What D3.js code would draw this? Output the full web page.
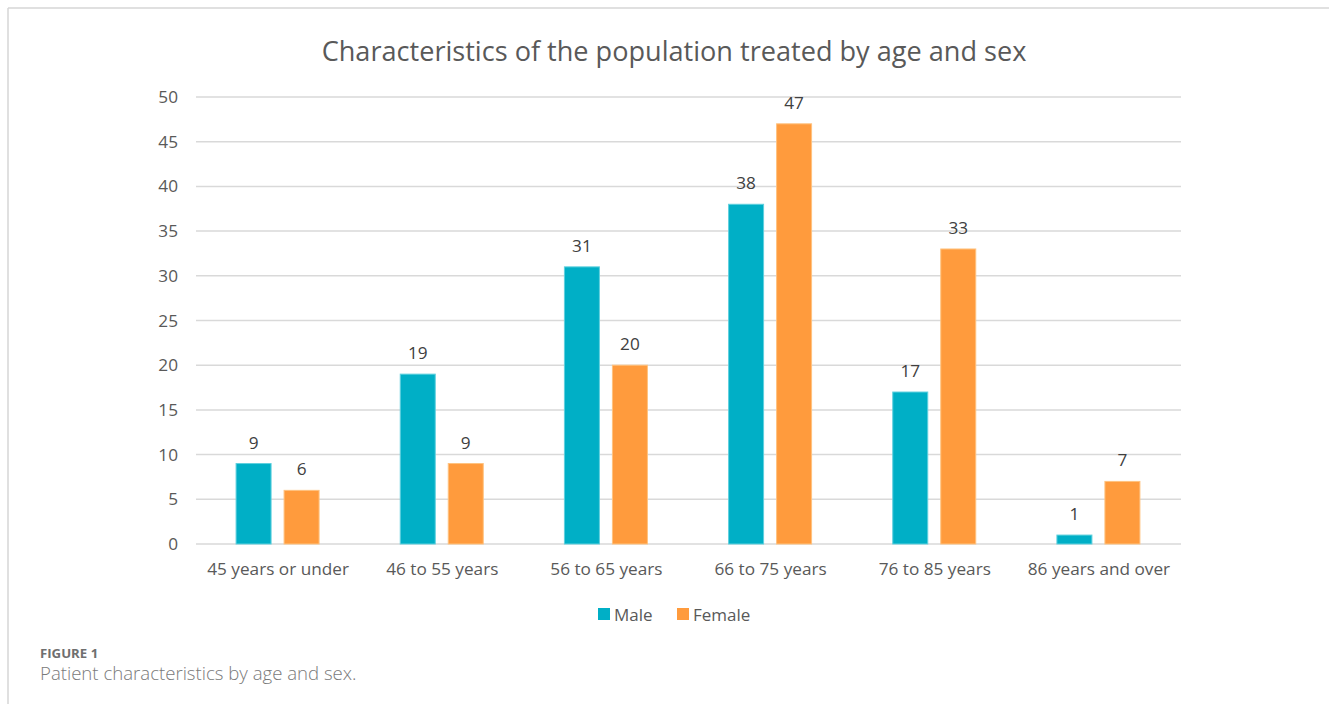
<!DOCTYPE html>
<html>
<head>
<meta charset="utf-8">
<script src="https://cdn.jsdelivr.net/npm/d3@7"></script>
<style>
  html, body { margin: 0; padding: 0; background: #fff; }
  svg { display: block; font-family: "Open Sans", "Noto Sans", sans-serif; }
</style>
</head>
<body>
<svg id="chart" width="1329" height="704"></svg>
<script>
// Age groups and patient counts by sex
const categories = ["45 years or under", "46 to 55 years", "56 to 65 years", "66 to 75 years", "76 to 85 years", "86 years and over"];
const seriesNames = ["Male", "Female"];
const maleValues = [9, 19, 31, 38, 17, 1];
const femaleValues = [6, 9, 20, 47, 33, 7];
const yTicks = [0, 5, 10, 15, 20, 25, 30, 35, 40, 45, 50];

const colors = { Male: "#00AFC6", Female: "#FF9B3D" };
const edgeColors = { Male: "#5fd0de", Female: "#ffc27f" };

const svg = d3.select("#chart");

// Outer frame (top and left rules)
svg.append("line").attr("x1", 8).attr("y1", 8).attr("x2", 1329).attr("y2", 8)
  .attr("stroke", "#d6d6d6").attr("stroke-width", 1.5);
svg.append("line").attr("x1", 8).attr("y1", 8).attr("x2", 8).attr("y2", 704)
  .attr("stroke", "#d6d6d6").attr("stroke-width", 1.5);

const plot = { left: 196, right: 1181, top: 97, bottom: 544 };

const x0 = d3.scaleBand().domain(categories).range([plot.left, plot.right]).paddingInner(0).paddingOuter(0);
const x1 = d3.scaleBand().domain(seriesNames).range([0, 84]).paddingInner(0.25);
const y = d3.scaleLinear().domain([0, 50]).range([plot.bottom, plot.top]);

// Title
svg.append("text").attr("x", 674).attr("y", 61).attr("text-anchor", "middle")
  .attr("font-size", 27.1).attr("fill", "#595959")
  .text("Characteristics of the population treated by age and sex");

// Gridlines
svg.append("g").selectAll("line").data(yTicks).join("line")
  .attr("x1", plot.left).attr("x2", plot.right)
  .attr("y1", d => y(d)).attr("y2", d => y(d))
  .attr("stroke", "#d9d9d9").attr("stroke-width", 1.5);

// Y axis labels
const yAxis = d3.axisLeft(y).tickValues(yTicks).tickSize(0).tickPadding(18);
const yg = svg.append("g").attr("transform", `translate(${plot.left},0)`).call(yAxis);
yg.select(".domain").remove();
yg.selectAll("text").attr("font-size", 17.2).attr("fill", "#595959")
  .attr("font-family", "'Open Sans', 'Noto Sans', sans-serif");

// X axis labels
const xAxis = d3.axisBottom(x0).tickSize(0).tickPadding(19);
const xg = svg.append("g").attr("transform", `translate(0,${plot.bottom})`).call(xAxis);
xg.select(".domain").remove();
xg.selectAll("text").attr("font-size", 17.2).attr("fill", "#595959")
  .attr("font-family", "'Open Sans', 'Noto Sans', sans-serif");

// Bars
const rows = categories.map((c, i) => ({ cat: c, vals: [
  { s: "Male", v: maleValues[i] },
  { s: "Female", v: femaleValues[i] }
]}));

const groups = svg.append("g").selectAll("g").data(rows).join("g")
  .attr("transform", d => `translate(${x0(d.cat) + x0.bandwidth() / 2 - 42.5},0)`);

groups.selectAll("rect").data(d => d.vals).join("rect")
  .attr("x", d => x1(d.s) + 0.5)
  .attr("y", d => y(d.v))
  .attr("width", x1.bandwidth() - 1)
  .attr("height", d => y(0) - y(d.v))
  .attr("fill", d => colors[d.s])
  .attr("stroke", d => edgeColors[d.s])
  .attr("stroke-width", 1);

// Value labels
groups.selectAll("text").data(d => d.vals).join("text")
  .attr("x", d => x1(d.s) + x1.bandwidth() / 2)
  .attr("y", d => y(d.v) - 15)
  .attr("text-anchor", "middle")
  .attr("font-size", 17.2).attr("fill", "#404040")
  .text(d => d.v);

// Legend
const legend = svg.append("g").attr("transform", "translate(598,608)");
const legendItems = [{ s: "Male", x: 0 }, { s: "Female", x: 79 }];
const li = legend.selectAll("g").data(legendItems).join("g")
  .attr("transform", d => `translate(${d.x},0)`);
li.append("rect").attr("width", 12).attr("height", 12).attr("fill", d => colors[d.s]);
li.append("text").attr("x", 16).attr("y", 12.5).attr("font-size", 17).attr("fill", "#595959")
  .text(d => d.s);

// Caption
svg.append("text").attr("x", 40).attr("y", 658).attr("font-size", 13.2)
  .attr("font-weight", 700).attr("fill", "#6f6f6f").text("FIGURE 1");
svg.append("text").attr("x", 40).attr("y", 680).attr("font-size", 18.6)
  .attr("fill", "#7a7a7a").attr("font-weight", 300).text("Patient characteristics by age and sex.");
</script>
</body>
</html>
